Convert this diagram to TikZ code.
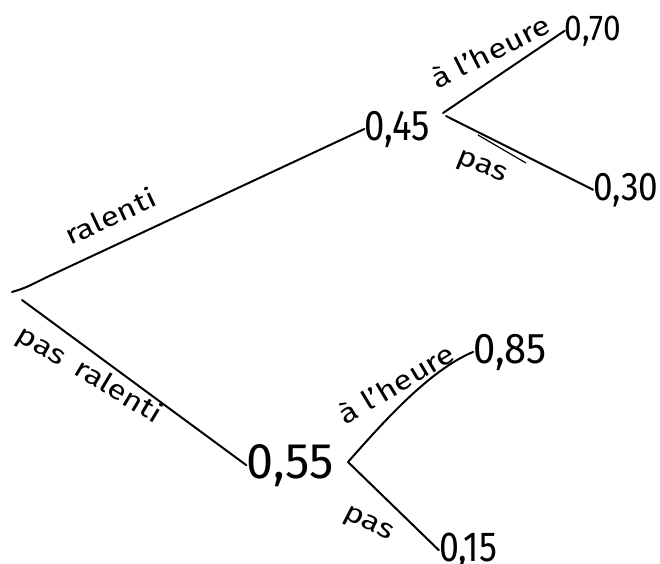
\documentclass[tikz,border=0pt]{standalone}
\usepackage{graphicx}
\usepackage{fontspec}
\setmainfont{Fira Sans}
\newcommand\hwlabel[1]{\scalebox{1}[0.82]{#1}}
\begin{document}
\begin{tikzpicture}[x=1pt,y=-1pt,
  branch/.style={line width=2pt, line cap=round, line join=round},
  prob/.style={inner sep=0pt, font=\fontsize{#1}{#1}\selectfont},
  lab/.style={inner sep=0pt, font=\fontsize{33}{33}\selectfont}]
\useasboundingbox (0,0) rectangle (660,563);
% probabilities
\node[prob=43, anchor=base] (p45) at (397,140) {\scalebox{0.85}[1]{0,45}};
\node[prob=36, anchor=base] (p70) at (593,40) {\scalebox{0.88}[1]{0,70}};
\node[prob=40, anchor=base west] (p30) at (593,200) {\scalebox{0.88}[1]{0,30}};
\node[prob=50, anchor=base] (p55) at (290,478) {\scalebox{0.97}[1]{0,55}};
\node[prob=43, anchor=base] (p85) at (510,363) {\scalebox{0.93}[1]{0,85}};
\node[prob=42, anchor=base] (p15) at (468,561) {\scalebox{0.85}[1]{0,15}};
% junction points
\coordinate (rootA) at (12,292);
\coordinate (rootB) at (22,300);
\coordinate (f1) at (443,113);
\coordinate (f1b) at (446,116);
\coordinate (f2) at (348,462);
% branches
\draw[branch] (rootA) .. controls (25,288) .. (45,278) -- (p45.west);
\draw[branch] (rootB) -- (p55.west);
\draw[branch] (f1) -- (p70.west);
\draw[branch] (f1b) -- (p30.west);
\draw[line width=1.2pt] (478,135) -- (526,163);
\draw[branch] (f2) .. controls (385,420) and (430,370) .. (p85.west);
\draw[branch] (f2) -- (p15.west);
% labels
\node[lab, rotate=25] (l1) at (110,216) {\hwlabel{ralenti}};
\node[lab, rotate=-31] (l2) at (89,375) {\hwlabel{pas\hspace{6pt} ralenti}};
\node[lab, rotate=27] (l3) at (490,51) {\hwlabel{à l'heure}};
\node[lab, rotate=-22] (l4) at (481,168) {\hwlabel{pas}};
\node[lab, rotate=31] (l5) at (396,383) {\hwlabel{à l'heure}};
\node[lab, rotate=-27] (l6) at (368,525) {\hwlabel{pas}};
\end{tikzpicture}
\end{document}
